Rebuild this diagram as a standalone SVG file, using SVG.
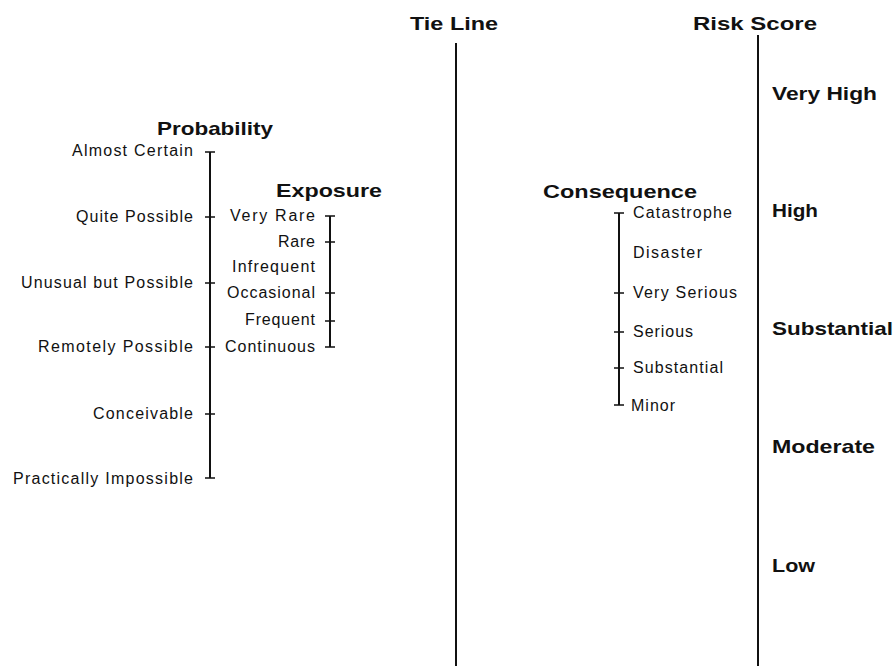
<svg xmlns="http://www.w3.org/2000/svg" width="896" height="666" viewBox="0 0 896 666">
<style>
  .bg { fill: #ffffff; }
  .title { font-family: "Liberation Sans", Arial, sans-serif; font-size: 19px; font-weight: bold; fill: #111; }
  .lbl { font-family: "Liberation Sans", Arial, sans-serif; font-size: 16px; fill: #111; }
  .axis { stroke: #111; stroke-width: 2; fill: none; }
  .tick { stroke: #111; stroke-width: 1.5; fill: none; }
</style>
<rect class="bg" x="0" y="0" width="896" height="666"/>

<g id="probability">
  <text class="title" x="157" y="135" textLength="116" lengthAdjust="spacingAndGlyphs">Probability</text>
  <line class="axis" x1="210" y1="152" x2="210" y2="478"/>
  <path class="tick" d="M205,152H215 M205,217H215 M205,283H215 M205,347H215 M205,414H215 M205,478H215"/>
  <text class="lbl" x="72" y="156" textLength="121">Almost Certain</text>
  <text class="lbl" x="76" y="222" textLength="117">Quite Possible</text>
  <text class="lbl" x="21" y="288" textLength="172">Unusual but Possible</text>
  <text class="lbl" x="38" y="352" textLength="155">Remotely Possible</text>
  <text class="lbl" x="93" y="419" textLength="100">Conceivable</text>
  <text class="lbl" x="13" y="484" textLength="180">Practically Impossible</text>
</g>

<g id="exposure">
  <text class="title" x="276" y="197" textLength="106" lengthAdjust="spacingAndGlyphs">Exposure</text>
  <line class="axis" x1="330" y1="216" x2="330" y2="347"/>
  <path class="tick" d="M325,216H335 M325,242H335 M325,293H335 M325,321H335 M325,347H335"/>
  <text class="lbl" x="230" y="221" textLength="85">Very Rare</text>
  <text class="lbl" x="278" y="247" textLength="37">Rare</text>
  <text class="lbl" x="232" y="272" textLength="83">Infrequent</text>
  <text class="lbl" x="227" y="298" textLength="88">Occasional</text>
  <text class="lbl" x="245" y="325" textLength="70">Frequent</text>
  <text class="lbl" x="225" y="352" textLength="90">Continuous</text>
</g>

<g id="tie-line">
  <text class="title" x="410" y="30" textLength="88" lengthAdjust="spacingAndGlyphs">Tie Line</text>
  <line class="axis" x1="456" y1="43" x2="456" y2="666"/>
</g>

<g id="consequence">
  <text class="title" x="543" y="198" textLength="154" lengthAdjust="spacingAndGlyphs">Consequence</text>
  <line class="axis" x1="619" y1="213" x2="619" y2="405"/>
  <path class="tick" d="M614,213H624 M614,293H624 M614,332H624 M614,368H624 M614,405H624"/>
  <text class="lbl" x="633" y="218" textLength="99">Catastrophe</text>
  <text class="lbl" x="633" y="258" textLength="69">Disaster</text>
  <text class="lbl" x="633" y="298" textLength="104">Very Serious</text>
  <text class="lbl" x="633" y="337" textLength="60">Serious</text>
  <text class="lbl" x="633" y="373" textLength="90">Substantial</text>
  <text class="lbl" x="631" y="411" textLength="44">Minor</text>
</g>

<g id="risk-score">
  <text class="title" x="693" y="30" textLength="124" lengthAdjust="spacingAndGlyphs">Risk Score</text>
  <line class="axis" x1="758" y1="35" x2="758" y2="666"/>
  <text class="title" x="772" y="100" textLength="105" lengthAdjust="spacingAndGlyphs">Very High</text>
  <text class="title" x="772" y="217" textLength="46" lengthAdjust="spacingAndGlyphs">High</text>
  <text class="title" x="772" y="335" textLength="121" lengthAdjust="spacingAndGlyphs">Substantial</text>
  <text class="title" x="772" y="453" textLength="103" lengthAdjust="spacingAndGlyphs">Moderate</text>
  <text class="title" x="772" y="572" textLength="43" lengthAdjust="spacingAndGlyphs">Low</text>
</g>
</svg>
